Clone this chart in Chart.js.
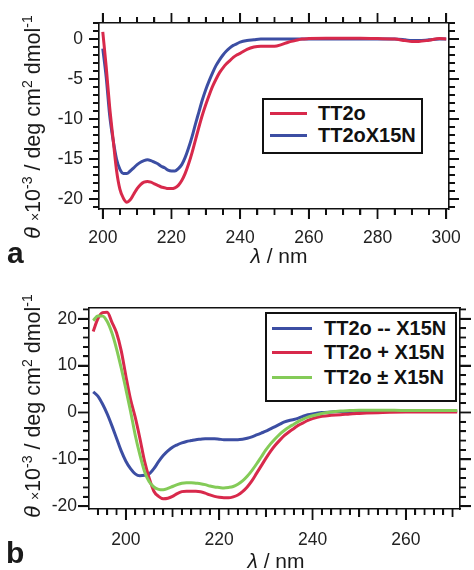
<!DOCTYPE html>
<html>
<head>
<meta charset="utf-8">
<script src="https://cdn.jsdelivr.net/npm/chart.js@4"></script>
<style>
  body { margin: 0; background: #fff; font-family: "Liberation Sans", Arial, sans-serif; color: #1a1a1a; }
  #wrap { position: relative; width: 474px; height: 570px; overflow: hidden; }
  canvas { position: absolute; left: 0; }
  #chartA { top: 0; }
  #chartB { top: 280px; }
  .ytitle { position: absolute; width: 300px; height: 24px; line-height: 24px; text-align: center;
            font-size: 21.5px; white-space: nowrap; transform: rotate(-90deg); }
  .ytitle sup { font-size: 14px; line-height: 0; vertical-align: 8px; }
  .ytitle small { font-size: 14px; }
  .xtitle { position: absolute; width: 200px; height: 24px; line-height: 24px; text-align: center; font-size: 21px; }
  .tag { position: absolute; font-weight: bold; font-size: 30px; line-height: 30px; }
  .legend { position: absolute; border: 2px solid #111; background: #fff; box-sizing: border-box; }
  .row { position: absolute; display: flex; align-items: center; height: 22px;
         font-weight: bold; font-size: 20px; white-space: nowrap; color: #111; }
  .row i { display: block; height: 3px; }
  .tk { position: absolute; background: #111; z-index: 6; }
</style>
</head>
<body>
<div id="wrap">
  <canvas id="chartA" width="474" height="275"></canvas>
  <canvas id="chartB" width="474" height="290"></canvas>

  <div class="ytitle" style="left:-117px; top:115px;"><i>θ</i> <small>×</small>10<sup>-3</sup> / deg cm<sup>2</sup> dmol<sup>-1</sup></div>
  <div class="ytitle" style="left:-117px; top:394px;"><i>θ</i> <small>×</small>10<sup>-3</sup> / deg cm<sup>2</sup> dmol<sup>-1</sup></div>
  <div class="xtitle" style="left:179px; top:244px;"><i>λ</i> / nm</div>
  <div class="xtitle" style="left:176px; top:549px;"><i>λ</i> / nm</div>
  <div class="tag" style="left:7px; top:238px;">a</div>
  <div class="tag" style="left:6px; top:538px;">b</div>

  <div class="legend" style="left:262px; top:98px; width:161px; height:56px;">
    <div class="row" style="left:6px; top:2px;"><i style="width:37px; background:#d8294b; margin-right:11px;"></i>TT2o</div>
    <div class="row" style="left:6px; top:24px;"><i style="width:37px; background:#3c4ea3; margin-right:11px;"></i>TT2oX15N</div>
  </div>
  <div class="legend" style="left:265px; top:312px; width:192px; height:90px;">
    <div class="row" style="left:5px; top:3px;"><i style="width:40px; background:#3c4ea3; margin-right:12px;"></i>TT2o -- X15N</div>
    <div class="row" style="left:5px; top:27px;"><i style="width:40px; background:#d8294b; margin-right:12px;"></i>TT2o + X15N</div>
    <div class="row" style="left:5px; top:52px;"><i style="width:40px; background:#84cb58; margin-right:12px;"></i>TT2o ± X15N</div>
  </div>
</div>

<script>
// panel a
const lambdaA = [200, 201, 202, 203, 204, 205, 206, 207, 208, 209,
  210, 211, 212, 213, 214, 215, 216, 217, 218, 219,
  220, 221, 222, 223, 224, 225, 226, 227, 228, 229,
  230, 231, 232, 233, 234, 235, 236, 237, 238, 239,
  240, 242, 244, 246, 248, 250, 252, 254, 256, 258,
  260, 265, 270, 275, 280, 285, 288, 290, 292, 295, 298, 300];
const tt2o = [0.9, -3.5, -8.5, -12.5, -16.4, -18.8, -19.9, -20.4, -20.1, -19.4,
  -18.7, -18.2, -17.9, -17.8, -17.9, -18.1, -18.3, -18.5, -18.6, -18.7,
  -18.7, -18.6, -18.3, -17.7, -16.8, -15.6, -14.2, -12.6, -11, -9.5,
  -8.2, -7, -5.9, -5, -4.2, -3.6, -3.1, -2.7, -2.3, -2,
  -1.8, -1.3, -1, -0.9, -0.9, -0.9, -0.7, -0.4, -0.2, 0,
  0.05, 0.1, 0.1, 0.1, 0.05, 0, -0.2, -0.3, -0.3, -0.15, 0.05, 0];
const tt2oX15N = [-1.2, -4.8, -9.5, -12.6, -15, -16.3, -16.8, -16.8, -16.5, -16.1,
  -15.7, -15.4, -15.2, -15.1, -15.2, -15.4, -15.6, -15.9, -16.1, -16.4,
  -16.5, -16.5, -16.2, -15.7, -14.8, -13.6, -12.2, -10.6, -9.1, -7.6,
  -6.3, -5.2, -4.2, -3.3, -2.6, -2, -1.5, -1.1, -0.8, -0.6,
  -0.4, -0.2, -0.1, 0, 0, 0, 0, 0, 0, 0,
  0, 0, 0, 0, 0, 0, -0.1, -0.2, -0.2, -0.1, 0, 0];

// panel b
const lambdaB = [193, 194, 195, 196, 197, 198, 199, 200, 201, 202,
  203, 204, 205, 206, 207, 208, 209, 210, 211, 212,
  213, 214, 215, 216, 217, 218, 219, 220, 221, 222,
  223, 224, 225, 226, 227, 228, 229, 230, 231, 232,
  233, 234, 235, 236, 237, 238, 239, 240,
  242, 244, 246, 248, 250, 255, 260, 265, 271];
const minusX15N = [4.4, 3.5, 1.8, -0.3, -2.8, -5.5, -8.2, -10.4, -12, -13.1,
  -13.5, -13.4, -13.1, -12, -10.5, -9.2, -8.2, -7.4, -6.9, -6.5,
  -6.2, -6, -5.8, -5.7, -5.6, -5.6, -5.6, -5.7, -5.8, -5.8,
  -5.8, -5.8, -5.7, -5.5, -5.2, -4.8, -4.4, -4, -3.5, -3,
  -2.5, -2, -1.7, -1.5, -1.2, -0.8, -0.5, -0.3,
  0, 0.1, 0.2, 0.2, 0.3, 0.3, 0.3, 0.3, 0.3];
const plusX15N = [17.3, 20, 21.3, 21.4, 19.3, 17, 13.2, 7.8, 2.8, -1,
  -5.5, -10.4, -14, -16.8, -17.9, -18.4, -18.3, -17.9, -17.3, -16.9,
  -16.8, -16.8, -16.8, -16.9, -17.2, -17.6, -17.9, -18.1, -18.2, -18.2,
  -18, -17.6, -16.9, -15.9, -14.6, -13, -11.4, -9.8, -8.3, -7,
  -5.9, -4.9, -4.1, -3.4, -2.7, -2.2, -1.7, -1.3,
  -0.8, -0.6, -0.5, -0.3, -0.2, 0, 0.1, 0.1, 0.1];
const pmX15N = [19.6, 20.6, 20.6, 19.4, 17, 13.6, 9.5, 5, 0.3, -4.8,
  -9, -12.6, -14.8, -15.9, -16.4, -16.5, -16.2, -15.8, -15.4, -15.1,
  -15, -15, -15.1, -15.2, -15.4, -15.7, -15.9, -16, -16.1, -16,
  -15.8, -15.3, -14.6, -13.6, -12.4, -11, -9.5, -8, -6.7, -5.6,
  -4.6, -3.8, -3.1, -2.5, -1.9, -1.4, -1, -0.7,
  -0.2, 0.1, 0.3, 0.4, 0.5, 0.5, 0.4, 0.4, 0.4];

const RED = "#d8294b", BLUE = "#3c4ea3", GREEN = "#84cb58", INK = "#111111";
const tickFont = { family: "'Liberation Sans', Arial, sans-serif", size: 17.5 };
const isMult = (v, m) => Math.abs(v / m - Math.round(v / m)) < 1e-6;

// collect outward tick rectangles from the chart's own scales
function tickRects(chart, spec) {
  const a = chart.chartArea, xs = chart.scales.x, ys = chart.scales.y, w = spec.w;
  const xl = v => isMult(v, spec.xMajor) ? spec.major : (spec.xMid && isMult(v, spec.xMid) ? spec.mid : spec.minor);
  const yl = v => isMult(v, spec.yMajor) ? spec.major : spec.minor;
  const out = [];
  xs.ticks.forEach(t => {
    const px = xs.getPixelForValue(t.value), l = xl(t.value);
    out.push([px - w / 2, a.bottom, w, l]);
    if (spec.top) out.push([px - w / 2, a.top - l, w, l]);
  });
  ys.ticks.forEach(t => {
    const py = ys.getPixelForValue(t.value), l = yl(t.value);
    out.push([a.left - l, py - w / 2, l, w]);
    out.push([a.right, py - w / 2, l, w]);
  });
  return out;
}

function tickPlugin(spec) {
  return {
    id: "tickMarks",
    afterDraw(chart) {
      const ctx = chart.ctx;
      ctx.save();
      ctx.fillStyle = INK;
      tickRects(chart, spec).forEach(r => ctx.fillRect(r[0], r[1], r[2], r[3]));
      ctx.restore();
    }
  };
}

// same ticks again as page elements over the canvas
function htmlTicks(chart, canvasTop, spec) {
  const wrap = document.getElementById("wrap");
  tickRects(chart, spec).forEach(r => {
    const d = document.createElement("div");
    d.className = "tk";
    d.style.left = r[0] + "px";
    d.style.top = (canvasTop + r[1]) + "px";
    d.style.width = r[2] + "px";
    d.style.height = r[3] + "px";
    wrap.appendChild(d);
  });
}

function line(label, xs, ys, color, order) {
  return {
    label,
    data: xs.map((v, i) => ({ x: v, y: ys[i] })),
    borderColor: color,
    borderWidth: 3,
    pointRadius: 0,
    cubicInterpolationMode: "monotone",
    order
  };
}

// labelled axis: one tick per minor step, labels only on majors
function mainAxis(axis, position, min, max, step, every, size, pad) {
  return {
    type: "linear", axis, position, min, max, weight: 1,
    grid: { display: true, drawOnChartArea: false, drawTicks: true, tickLength: 6, color: "rgba(0,0,0,0)" },
    border: { display: true, color: INK, width: 1.6 },
    ticks: {
      stepSize: step, includeBounds: false, autoSkip: false, maxRotation: 0,
      padding: pad, color: "#222", font: tickFont,
      callback: v => (isMult(v, every) ? v : "")
    },
    afterFit: sc => { if (axis === "x") sc.height = size; else sc.width = size; }
  };
}

// zero-size axis that only closes the frame on top / right
function edgeAxis(axis, position, min, max) {
  return {
    type: "linear", axis, position, min, max, weight: 0,
    grid: { display: false },
    border: { display: true, color: INK, width: 1.6 },
    ticks: { display: false },
    afterFit: sc => { if (axis === "x") sc.height = 0; else sc.width = 0; }
  };
}

function makeChart(id, datasets, padTop, padRight, scales, plugins) {
  return new Chart(document.getElementById(id), {
    type: "line",
    data: { datasets },
    plugins,
    options: {
      responsive: false,
      devicePixelRatio: 1,
      animation: false,
      events: [],
      layout: { padding: { left: 0, right: padRight, top: padTop, bottom: 0 } },
      plugins: { legend: { display: false }, tooltip: { enabled: false } },
      scales
    }
  });
}

const specA = { xMajor: 20, xMid: 0, yMajor: 5, minor: 6, mid: 8, major: 10, w: 1.8, top: true };
const specB = { xMajor: 20, xMid: 10, yMajor: 10, minor: 6, mid: 8, major: 11, w: 1.8, top: false };

const ax = { xMin: 198.9, xMax: 300.8, yMin: -21.25, yMax: 2 };
const chartA = makeChart("chartA", [
  line("TT2o", lambdaA, tt2o, RED, 0),
  line("TT2oX15N", lambdaA, tt2oX15N, BLUE, 1)
], 23, 15, {
  x: mainAxis("x", "bottom", ax.xMin, ax.xMax, 5, 20, 66, 13),
  xTop: edgeAxis("x", "top", ax.xMin, ax.xMax),
  y: mainAxis("y", "left", ax.yMin, ax.yMax, 1, 5, 99, 10),
  yRight: edgeAxis("y", "right", ax.yMin, ax.yMax)
}, [tickPlugin(specA)]);

const bx = { xMin: 192.1, xMax: 271.6, yMin: -20.6, yMax: 22.3 };
const chartB = makeChart("chartB", [
  line("TT2o -- X15N", lambdaB, minusX15N, BLUE, 2),
  line("TT2o + X15N", lambdaB, plusX15N, RED, 1),
  line("TT2o ± X15N", lambdaB, pmX15N, GREEN, 0)
], 28, 14, {
  x: mainAxis("x", "bottom", bx.xMin, bx.xMax, 2, 20, 61, 15),
  xTop: edgeAxis("x", "top", bx.xMin, bx.xMax),
  y: mainAxis("y", "left", bx.yMin, bx.yMax, 2, 10, 89, 6),
  yRight: edgeAxis("y", "right", bx.yMin, bx.yMax)
}, [tickPlugin(specB)]);

htmlTicks(chartA, 0, specA);
htmlTicks(chartB, 280, specB);
</script>
</body>
</html>
